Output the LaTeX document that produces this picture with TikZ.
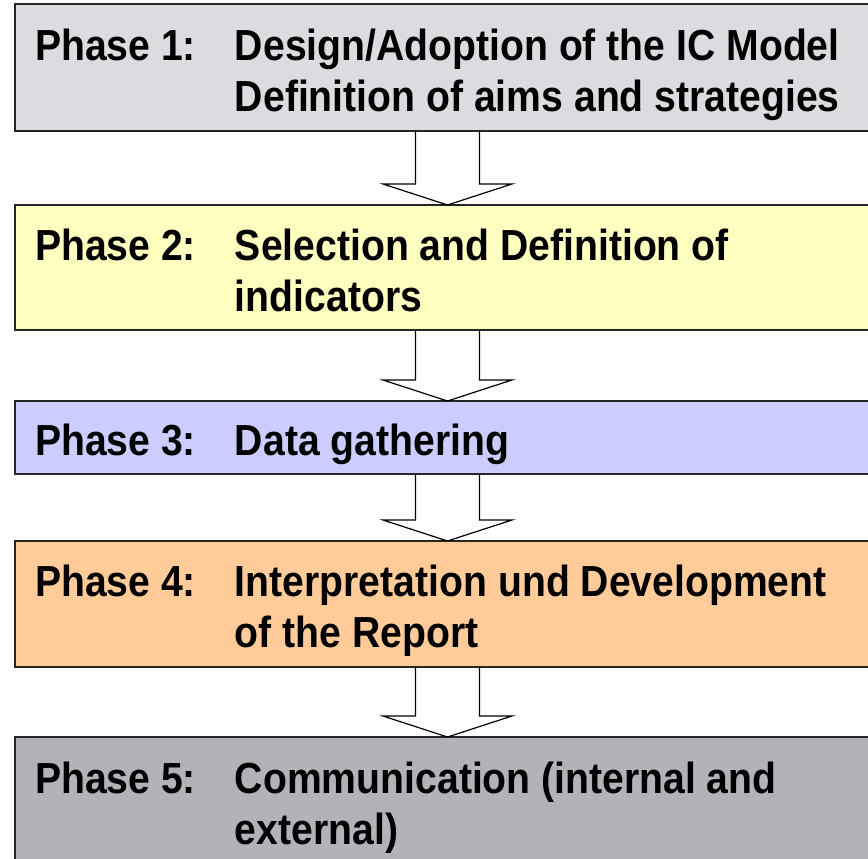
\documentclass[tikz,border=0pt]{standalone}
\usepackage{fontspec}
\setmainfont{Liberation Sans}[FakeStretch=0.9]
\usetikzlibrary{positioning}

\definecolor{phaseone}{HTML}{DCDCE0}
\definecolor{phasetwo}{HTML}{FFFFC0}
\definecolor{phasethree}{HTML}{CCCCFF}
\definecolor{phasefour}{HTML}{FFCC99}
\definecolor{phasefive}{HTML}{B3B2B8}

% label column + description column, text pushed a bit below centre
\newcommand{\phasetext}[2]{\raisebox{-8pt}[\height][\depth]{\begin{tabular}{@{}p{200pt}@{}p{625pt}@{}}#1 & #2\end{tabular}}}

\begin{document}
\begin{tikzpicture}[x=1pt, y=-1pt,
	phase/.style = {draw=black!85, line width=1.2pt, rectangle, inner xsep=20pt, inner ysep=0pt, outer sep=0pt, minimum width=865pt, font=\fontsize{43.5}{51}\selectfont\bfseries},
	flow/.style = {draw=black, line width=1.2pt, line join=miter}]
		\useasboundingbox (0,0) rectangle (868,859);
		\clip (0,0) rectangle (868,859);
		\node[phase, fill=phaseone, minimum height=127pt, anchor=north west] (p1) at (15,4) {\phasetext{Phase 1:}{Design/Adoption of the IC Model\\ & Definition of aims and strategies}};
		\node[phase, fill=phasetwo, minimum height=125pt] (p2) [below=74pt of p1] {\phasetext{Phase 2:}{Selection and Definition of\\ & indicators}};
		\node[phase, fill=phasethree, minimum height=73pt] (p3) [below=71pt of p2] {\phasetext{Phase 3:}{Data gathering}};
		\node[phase, fill=phasefour, minimum height=126pt] (p4) [below=67pt of p3] {\phasetext{Phase 4:}{Interpretation und Development\\ & of the Report}};
		\node[phase, fill=phasefive, minimum height=127pt] (p5) [below=70pt of p4] {\phasetext{Phase 5:}{Communication (internal and\\ & external)}};
		% hollow block arrows between the phases
		\draw[flow] ([xshift=-32pt]p1.south) |- ([xshift=-64.5pt,yshift=21pt]p2.north) -- (p2.north) -- ([xshift=64.5pt,yshift=21pt]p2.north) -| ([xshift=32pt]p1.south);
		\draw[flow] ([xshift=-32pt]p2.south) |- ([xshift=-64.5pt,yshift=21pt]p3.north) -- (p3.north) -- ([xshift=64.5pt,yshift=21pt]p3.north) -| ([xshift=32pt]p2.south);
		\draw[flow] ([xshift=-32pt]p3.south) |- ([xshift=-64.5pt,yshift=21pt]p4.north) -- (p4.north) -- ([xshift=64.5pt,yshift=21pt]p4.north) -| ([xshift=32pt]p3.south);
		\draw[flow] ([xshift=-32pt]p4.south) |- ([xshift=-64.5pt,yshift=21pt]p5.north) -- (p5.north) -- ([xshift=64.5pt,yshift=21pt]p5.north) -| ([xshift=32pt]p4.south);

	\end{tikzpicture}
\end{document}
